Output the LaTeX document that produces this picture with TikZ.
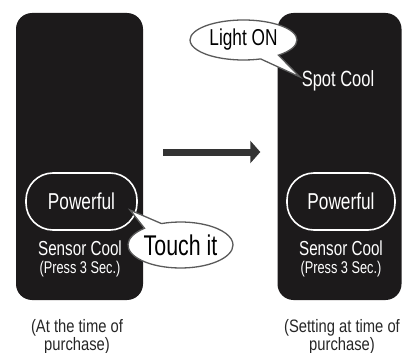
\documentclass[tikz,border=0pt]{standalone}
\usepackage{fontspec}
\setmainfont{Liberation Sans}[FakeStretch=0.75]
\newfontfamily\capfont{Liberation Sans}[FakeStretch=0.82]
\usetikzlibrary{shapes.callouts, arrows.meta, positioning}
\definecolor{panelgray}{HTML}{1C1A1B}
\definecolor{arrowgray}{HTML}{333333}
\definecolor{bubbleline}{HTML}{5A5A5A}

\begin{document}
\begin{tikzpicture}[x=1pt, y=-1pt,
    panel/.style={fill=panelgray, rounded corners=16pt, minimum height=287pt, inner sep=0pt},
    pill/.style={draw=white, line width=1.6pt, rounded corners=27pt, minimum height=57pt,
                 text=white, font=\fontsize{23}{25}\selectfont, inner sep=0pt},
    txt/.style={text=white, inner sep=0pt, anchor=base},
    bubble/.style={ellipse callout, draw=bubbleline, line width=1.3pt, fill=white,
                   inner sep=0pt, callout pointer arc=22},
    caption/.style={align=center, anchor=north, inner sep=0pt,
                    font=\capfont\fontsize{18}{16.5}\selectfont, text=black!85},
    flow/.style={-{Triangle[length=10pt, width=22pt]}, line width=7pt, draw=arrowgray}
]
\useasboundingbox (0,0) rectangle (402,353);

% panels
\node[panel, minimum width=127pt] (pnlL) at (79.5,156.5) {};
\node[panel, minimum width=124pt] (pnlR) at (339.5,156.5) {};

% left panel
\node[pill, minimum width=111pt] (pwrL) at (81.5,201.5) {Powerful};
\node[txt, font=\fontsize{20.3}{22}\selectfont] (snsL) at (80,255) {Sensor Cool};
\node[txt, font=\fontsize{17}{19}\selectfont] (prsL) at (80,273) {(Press 3 Sec.)};

% right panel
\node[txt, font=\fontsize{22}{24}\selectfont] (spot) at (338,87) {Spot Cool};
\node[pill, minimum width=108pt] (pwrR) at (341,201.5) {Powerful};
\node[txt, font=\fontsize{20.3}{22}\selectfont] (snsR) at (341,255) {Sensor Cool};
\node[txt, font=\fontsize{17}{19}\selectfont] (prsR) at (341,273) {(Press 3 Sec.)};

% arrow
\draw[flow, shorten <=20pt, shorten >=17pt] ([yshift=4.5pt]pnlL.east) -- ([yshift=4.5pt]pnlR.west);

% bubbles
\coordinate (tipT) at (130,210);
\coordinate (tipL) at (300,77);
\node[bubble, minimum width=105pt, minimum height=46pt, callout absolute pointer={(tipT)},
      font=\fontsize{28.5}{31}\selectfont] (touch) at (180.5,245) {Touch it};
\node[bubble, minimum width=107pt, minimum height=40pt, callout absolute pointer={(tipL)},
      font=\fontsize{23}{25}\selectfont] (light) at (243.5,40) {Light ON};

% captions
\node[caption] (capL) at (77,319) {(At the time of\\purchase)};
\node[caption] (capR) at (342,319) {(Setting at time of\\purchase)};
\end{tikzpicture}
\end{document}
